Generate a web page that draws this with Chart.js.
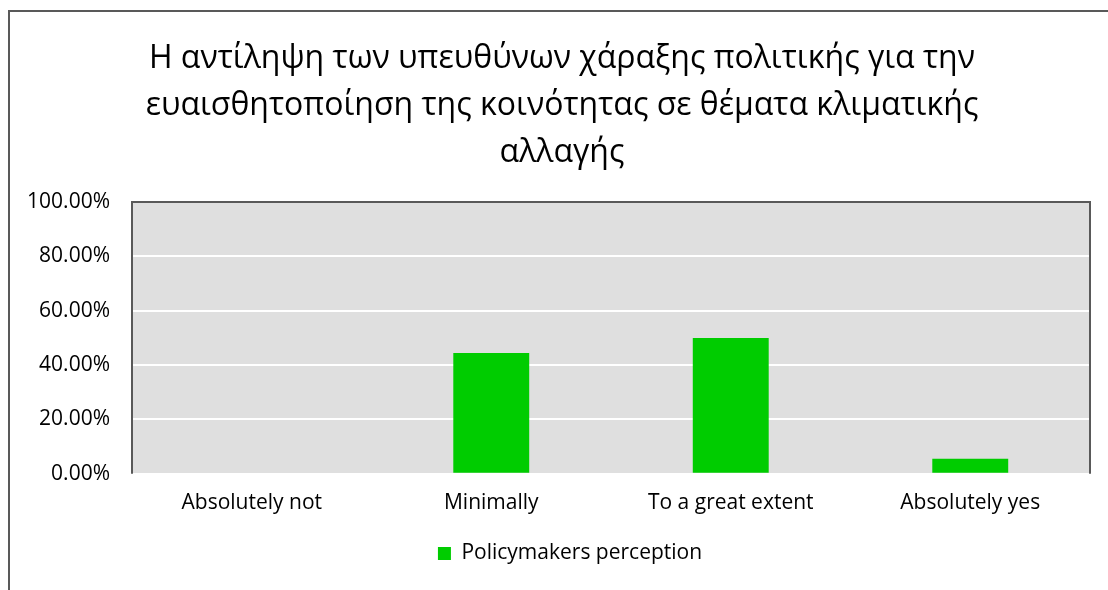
<!DOCTYPE html>
<html>
<head>
<meta charset="utf-8">
<script src="https://cdn.jsdelivr.net/npm/chart.js@4"></script>
<style>
  html, body { margin: 0; padding: 0; background: #fff; }
  #wrap { position: relative; width: 1108px; height: 590px; overflow: hidden; }
  #frame { position: absolute; left: 8px; top: 10px; width: 1200px; height: 700px; border: 2px solid #595959; }
  canvas { position: absolute; left: 0; top: 0; }
</style>
</head>
<body>
<div id="wrap">
  <div id="frame"></div>
  <canvas id="chart" width="1108" height="590"></canvas>
</div>
<script>
const titleLines = [
  'Η αντίληψη των υπευθύνων χάραξης πολιτικής για την',
  'ευαισθητοποίηση της κοινότητας σε θέματα κλιματικής',
  'αλλαγής'
];
const categories = ['Absolutely not', 'Minimally', 'To a great extent', 'Absolutely yes'];
const seriesName = 'Policymakers perception';
const values = [0, 44.44, 50, 5.56];
const yTicks = [0, 20, 40, 60, 80, 100];

const FONT = "'Open Sans', sans-serif";

// grey plot background and dark frame (left, top, right)
const plotBg = {
  id: 'plotBg',
  afterLayout(chart) {
    // nudge title and legend to the right like the original
    chart.titleBlock.left += 12;
    chart.titleBlock.right += 12;
    chart.legend.left += 20;
    chart.legend.right += 20;
  },
  beforeDraw(chart) {
    const { ctx, chartArea: a } = chart;
    ctx.save();
    ctx.fillStyle = '#dfdfdf';
    ctx.fillRect(a.left, a.top, a.right - a.left, a.bottom - a.top);
    ctx.restore();
  },
  afterDatasetsDraw(chart) {
    const { ctx, chartArea: a } = chart;
    ctx.save();
    ctx.strokeStyle = '#595959';
    ctx.lineWidth = 2;
    ctx.beginPath();
    ctx.moveTo(a.left, a.bottom);
    ctx.lineTo(a.left, a.top);
    ctx.lineTo(a.right, a.top);
    ctx.lineTo(a.right, a.bottom);
    ctx.stroke();
    ctx.restore();
  }
};

new Chart(document.getElementById('chart').getContext('2d'), {
  type: 'bar',
  data: {
    labels: categories,
    datasets: [{
      label: seriesName,
      data: values,
      backgroundColor: '#00cc00',
      categoryPercentage: 1,
      barPercentage: 0.317
    }]
  },
  options: {
    responsive: false,
    animation: false,
    layout: { padding: { left: 10, right: 18, top: 0, bottom: 16 } },
    plugins: {
      title: {
        display: true,
        text: titleLines,
        color: '#000',
        font: { family: FONT, size: 32, weight: 'normal', lineHeight: 1.47 },
        padding: { top: 35, bottom: 26 }
      },
      legend: {
        position: 'bottom',
        labels: {
          color: '#000',
          font: { family: FONT, size: 21 },
          boxWidth: 13,
          boxHeight: 13,
          padding: 10
        }
      },
      tooltip: { enabled: false }
    },
    scales: {
      x: {
        grid: { display: false, drawTicks: false },
        border: { color: '#ffffff', width: 2 },
        ticks: { color: '#000', font: { family: FONT, size: 21 }, padding: 17 }
      },
      y: {
        min: 0,
        max: 100,
        afterBuildTicks(scale) { scale.ticks = yTicks.map(v => ({ value: v })); },
        afterFit(scale) { scale.width = 122; },
        grid: { color: '#ffffff', lineWidth: 2, drawTicks: false },
        border: { display: false },
        ticks: {
          color: '#000',
          font: { family: FONT, size: 21 },
          padding: 22,
          callback: v => v.toFixed(2) + '%'
        }
      }
    }
  },
  plugins: [plotBg]
});
</script>
</body>
</html>
